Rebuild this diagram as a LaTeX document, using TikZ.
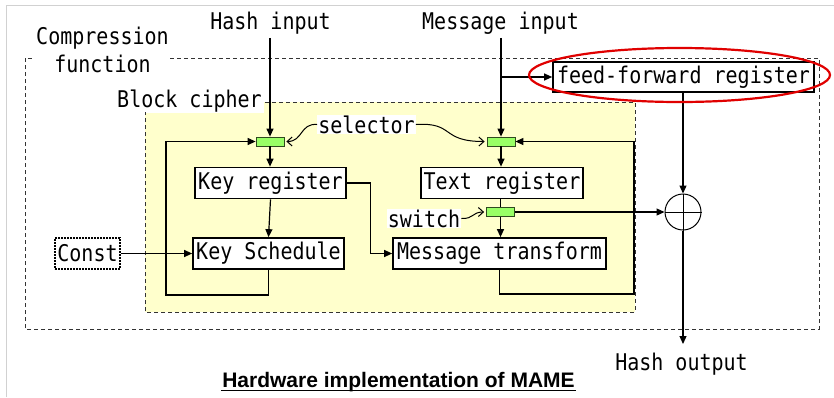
\documentclass[tikz,border=0pt]{standalone}
\usepackage{fontspec}
\setmainfont{DejaVu Sans Mono}[FakeStretch=0.87]
\newfontfamily\titlefont{Liberation Sans}
\usetikzlibrary{arrows.meta}
\definecolor{blockyellow}{HTML}{FFFFCC}
\definecolor{muxgreen}{HTML}{99FF66}
\definecolor{muxedge}{HTML}{2F4A1F}
\definecolor{ellred}{HTML}{E00000}
\tikzset{
  every node/.style={font=\fontsize{23}{25}\selectfont},
  box/.style={draw, line width=1.7pt, fill=white, inner sep=0pt, minimum height=31pt},
  muxbox/.style={draw=muxedge, line width=0.8pt, fill=muxgreen, minimum width=28pt, minimum height=9pt, inner sep=0pt},
  conn/.style={line width=1.2pt, -{Triangle[length=8pt,width=7pt]}},
  plainline/.style={line width=1.2pt},
  lbl/.style={fill=white, inner sep=1pt},
  curvy/.style={line width=1pt, -{Straight Barb[length=5pt,width=9pt]}, shorten >=2pt},
  dashedline/.style={line width=1pt, black!80, dash pattern=on 4pt off 3pt},
}
\begin{document}
\begin{tikzpicture}[x=1pt,y=-1pt]
\useasboundingbox (0,0) rectangle (834,397);
% screenshot frame
\draw[black!18, line width=1pt] (6.5,397) -- (6.5,5.5) -- (834,5.5);
% compression function frame
\draw[dashedline] (170,58) -- (819,58) -- (819,329) -- (25,329) -- (25,58) -- (32,58);
\node[anchor=base] (cf1) at (102.5,44) {Compression};
\node[anchor=base] (cf2) at (102.5,72.5) {function};
% block cipher area
\fill[blockyellow] (145,102) rectangle (635,312);
\node[anchor=base, fill=white, inner xsep=2.5pt, inner ysep=1pt] (bclbl) at (189.5,107.5) {Block cipher};
\draw[dashedline] (265,102) -- (635,102) -- (635,312) -- (145,312) -- (145,112);
% boxes
\node[box, minimum width=151pt] (keyreg) at (270.5,183) {Key register};
\node[box, minimum width=151pt] (keysch) at (268.5,253.5) {Key Schedule};
\node[box, minimum width=162pt] (textreg) at (502,183) {Text register};
\node[box, minimum width=213pt] (msgtr) at (499.5,253.5) {Message transform};
\node[box, minimum width=261pt, minimum height=30pt] (ffr) at (683.5,77) {feed-forward register};
\node[box, dash pattern=on 1.6pt off 1.4pt, minimum width=65pt] (const) at (87.5,253.5) {Const};
% muxes
\node[muxbox] (muxL) at (270,141.5) {};
\node[muxbox] (muxR) at (501,141.5) {};
\node[muxbox] (muxS) at (500.5,212) {};
% xor
\node[draw, line width=1pt, circle, minimum size=36pt, inner sep=0pt] (xor) at (683,212) {};
\draw[line width=1pt] (xor.north) -- (xor.south) (xor.west) -- (xor.east);
% texts
\node[anchor=base] (hin) at (270.5,29.5) {Hash input};
\node[anchor=base] (min) at (500.5,29.5) {Message input};
\node[anchor=base] (hout) at (681.5,370) {Hash output};
\node[lbl] (sel) at (366.5,124.5) {selector};
\node[lbl] (sw) at (424,218.5) {switch};
% connectors
\draw[conn] (hin.south -| muxL) -- (muxL.north);
\draw[conn] (min.south -| muxR) -- (muxR.north);
\coordinate (br) at (muxR |- ffr);
\draw[conn] (br) -- (ffr.west);
\draw[conn] (muxL.south) -- (muxL.south |- keyreg.north);
\draw[conn] (muxR.south) -- (muxR.south |- textreg.north);
\draw[conn] (keyreg.south) -- (keysch.north);
\draw[conn] (keyreg.east) -- ++(24,0) |- (msgtr.west);
\draw[conn] (const.east) -- (keysch.west);
\draw[conn] (keysch.south) |- (166,295) |- (muxL.west);
\draw[conn] (msgtr.south) |- (634,294) |- (muxR.east);
\draw[plainline] (textreg.south -| muxS) -- (muxS.north);
\draw[conn] (muxS.south) -- (muxS.south |- msgtr.north);
\draw[conn] (muxS.east) -- (xor.west);
\draw[conn] (ffr.south -| xor) -- (xor.north);
\coordinate (hoe) at (683,344);
\draw[conn] (xor.south) -- (hoe);
% selector / switch control curves
\draw[curvy] (sel.west) .. controls (300,123) and (303,141.5) .. (muxL.east);
\draw[curvy] (sel.east) .. controls (455,122) and (440,141.5) .. (muxR.west);
\draw[curvy] (sw.east) .. controls (474,219) and (472,212) .. (muxS.west);
% highlight ellipse
\draw[ellred, line width=2.2pt] (679.5,75) ellipse [x radius=150.5, y radius=27];
% title
\node[font=\titlefont\bfseries\fontsize{21}{24}\selectfont, anchor=base] (title) at (398.5,387.5) {Hardware implementation of MAME};
\draw[line width=1.5pt] ([yshift=-3pt]title.base west) ++(2pt,0) -- ([yshift=-3pt,xshift=-2pt]title.base east);
\end{tikzpicture}
\end{document}
